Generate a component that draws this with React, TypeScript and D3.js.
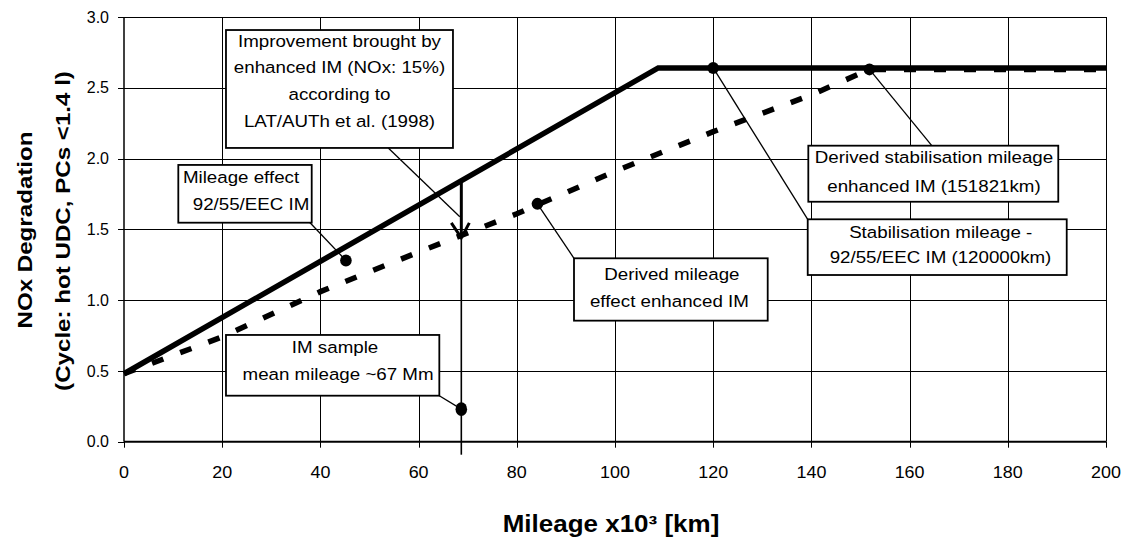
import React from 'react';
import * as d3 from 'd3';

// Chart size
const W = 1126;
const H = 541;

// Axis ticks
const xTicks = [0, 20, 40, 60, 80, 100, 120, 140, 160, 180, 200];
const yTicks = [0, 0.5, 1.0, 1.5, 2.0, 2.5, 3.0];
const yTickLabels = ['0.0', '0.5', '1.0', '1.5', '2.0', '2.5', '3.0'];

// Mileage effect under 92/55/EEC IM (mileage x10^3 km, degradation factor)
const baseMileage = [0, 108.8, 200];
const baseDegradation = [0.48, 2.64, 2.64];

// Derived mileage effect under enhanced IM
const enhancedMileage = [0, 20, 40, 60, 80, 100, 120, 140, 151.821, 200];
const enhancedDegradation = [0.48, 0.74, 1.06, 1.34, 1.61, 1.91, 2.19, 2.45, 2.63, 2.63];

// Callout points
const markerMileage = [45.2, 84.2, 120, 151.821, 68.7];
const markerDegradation = [1.28, 1.68, 2.64, 2.63, 0.23];

// IM sample mean mileage and the 15% improvement arrow end
const sampleMileage = 68.7;
const improvedLevel = 1.44;

// Text boxes (box extents in data units)
const boxLines = [
  ['Improvement brought by', 'enhanced IM (NOx: 15%)', 'according to', 'LAT/AUTh et al. (1998)'],
  ['Mileage effect', '92/55/EEC IM'],
  ['IM sample', 'mean mileage ~67 Mm'],
  ['Derived mileage', 'effect enhanced IM'],
  ['Stabilisation mileage -', '92/55/EEC IM (120000km)'],
  ['Derived stabilisation mileage', 'enhanced IM (151821km)'],
];
const boxX0 = [20.77, 11.06, 20.77, 91.65, 139.25, 139.37];
const boxX1 = [67.0, 38.23, 64.22, 131.1, 192.0, 190.28];
const boxYTop = [2.908, 1.955, 0.754, 1.2955, 1.571, 2.091];
const boxYBottom = [2.075, 1.547, 0.325, 0.855, 1.1775, 1.695];
const boxFirstBase = [16.7, 18.3, 18.3, 21.7, 19, 17.6];
const boxLineStep = [26.7, 26.7, 26.7, 27, 25, 29];
const boxLineDx = [[0, 0, 0, 0], [-4, 6], [2.4, 5.4], [1, -1.5], [3.5, 3.3], [0.7, 0.7]];

// Leaders: box anchor (fraction of box) -> callout marker index
const leaderBox = [1, 2, 3, 4, 5];
const leaderAnchorFx = [0.975, 1, 0, 0, 0.494];
const leaderAnchorFy = [0.97, 1, 0, 0, 0];
const leaderMarker = [0, 4, 1, 2, 3];

const FONT = '"Liberation Sans", Arial, Helvetica, sans-serif';
const STRETCH = 1.15;

export default function App() {
  const x = d3.scaleLinear().domain([0, 200]).range([124, 1106]);
  const y = d3.scaleLinear().domain([0, 3]).range([441.7, 17]);

  const line = d3
    .line<[number, number]>()
    .x((d) => x(d[0]))
    .y((d) => y(d[1]));

  const basePts = baseMileage.map((m, i) => [m, baseDegradation[i]] as [number, number]);
  const enhPts = enhancedMileage.map((m, i) => [m, enhancedDegradation[i]] as [number, number]);
  const baseAt = d3.scaleLinear().domain(baseMileage).range(baseDegradation);

  const sx = x(sampleMileage);
  const arrowTop = y(baseAt(sampleMileage));
  const arrowTip = y(improvedLevel);
  const axisY = y(0);

  const box = (i: number) => ({
    l: x(boxX0[i]),
    r: x(boxX1[i]),
    t: y(boxYTop[i]),
    b: y(boxYBottom[i]),
  });

  return (
    <svg
      width={W}
      height={H}
      style={{ position: 'absolute', left: 0, top: 0, display: 'block', background: '#fff' }}
      fontFamily={FONT}
    >
      <rect x={0} y={0} width={W} height={H} fill="#fff" />

      {/* grid */}
      <g stroke="#000" strokeWidth={1}>
        {yTicks.slice(1).map((t) => (
          <line key={'gy' + t} x1={x(0)} x2={x(200)} y1={Math.round(y(t)) + 0.5} y2={Math.round(y(t)) + 0.5} />
        ))}
        {xTicks.slice(1).map((t) => (
          <line key={'gx' + t} x1={Math.round(x(t)) + 0.5} x2={Math.round(x(t)) + 0.5} y1={y(3)} y2={axisY} />
        ))}
      </g>

      {/* axes */}
      <line x1={x(0)} x2={x(0)} y1={y(3)} y2={axisY} stroke="#000" strokeWidth={1.5} />
      <line x1={x(0)} x2={x(200)} y1={axisY} y2={axisY} stroke="#000" strokeWidth={2} />
      {yTicks.map((t) => (
        <line key={'ty' + t} x1={x(0) - 6} x2={x(0)} y1={Math.round(y(t)) + 0.5} y2={Math.round(y(t)) + 0.5} stroke="#000" strokeWidth={1} />
      ))}
      {xTicks.map((t) => (
        <line key={'tx' + t} x1={Math.round(x(t)) + 0.5} x2={Math.round(x(t)) + 0.5} y1={axisY} y2={axisY + 6} stroke="#000" strokeWidth={1} />
      ))}

      {/* tick labels */}
      <g fontSize={16} fill="#000">
        {yTicks.map((t, i) => (
          <text key={'ly' + t} x={109} y={y(t) + 5.6} textAnchor="end">
            {yTickLabels[i]}
          </text>
        ))}
        {xTicks.map((t) => (
          <text key={'lx' + t} transform={`translate(${x(t)},${477.5}) scale(1.12,1)`} textAnchor="middle">
            {t}
          </text>
        ))}
      </g>

      {/* axis titles */}
      <text
        transform={`translate(611,532) scale(1.13,1)`}
        textAnchor="middle"
        fontSize={23}
        fontWeight="bold"
      >
        Mileage x10³ [km]
      </text>
      <text
        transform={`translate(32,230) rotate(-90) scale(${STRETCH},1)`}
        textAnchor="middle"
        fontSize={21}
        fontWeight="bold"
      >
        NOx Degradation
      </text>
      <text
        transform={`translate(70,231) rotate(-90) scale(${STRETCH},1)`}
        textAnchor="middle"
        fontSize={21}
        fontWeight="bold"
      >
        (Cycle: hot UDC, PCs &lt;1.4 l)
      </text>

      {/* degradation curves */}
      <path d={line(enhPts) || ''} fill="none" stroke="#000" strokeWidth={5.5} strokeDasharray="12 18" />
      <path d={line(basePts) || ''} fill="none" stroke="#000" strokeWidth={5.5} strokeLinejoin="miter" />

      {/* IM sample mileage marker line and improvement arrow */}
      <line x1={sx} x2={sx} y1={arrowTip} y2={axisY + 13} stroke="#000" strokeWidth={1.6} />
      <line x1={sx} x2={sx} y1={arrowTop} y2={arrowTip} stroke="#000" strokeWidth={3} />
      <polyline
        points={`${sx - 10},${arrowTip - 15} ${sx},${arrowTip} ${sx + 8},${arrowTip - 15}`}
        fill="none"
        stroke="#000"
        strokeWidth={3}
      />

      {/* leader from the improvement box to the arrow */}
      {(() => {
        const b = box(0);
        return (
          <line
            x1={b.l + 0.715 * (b.r - b.l)}
            y1={b.b}
            x2={sx - 1.5}
            y2={y(1.589)}
            stroke="#000"
            strokeWidth={1.3}
          />
        );
      })()}

      {/* leaders from boxes to points */}
      {leaderBox.map((bi, k) => {
        const b = box(bi);
        const mi = leaderMarker[k];
        return (
          <line
            key={'ld' + k}
            x1={b.l + leaderAnchorFx[k] * (b.r - b.l)}
            y1={b.t + leaderAnchorFy[k] * (b.b - b.t)}
            x2={x(markerMileage[mi])}
            y2={y(markerDegradation[mi])}
            stroke="#000"
            strokeWidth={1.3}
          />
        );
      })}

      {/* callout points */}
      {markerMileage.map((m, i) => (
        <ellipse key={'mk' + i} cx={x(m)} cy={y(markerDegradation[i])} rx={5.8} ry={i === 4 ? 6.8 : 6} fill="#000" />
      ))}

      {/* text boxes */}
      {boxLines.map((lines, i) => {
        const b = box(i);
        const cx = (b.l + b.r) / 2;
        return (
          <g key={'bx' + i}>
            <rect x={b.l} y={b.t} width={b.r - b.l} height={b.b - b.t} fill="#fff" stroke="#000" strokeWidth={1.8} />
            {lines.map((s, j) => (
              <text
                key={j}
                transform={`translate(${cx + boxLineDx[i][j]},${b.t + boxFirstBase[i] + j * boxLineStep[i]}) scale(${STRETCH},1)`}
                textAnchor="middle"
                fontSize={16.3}
                fill="#000"
              >
                {s}
              </text>
            ))}
          </g>
        );
      })}
    </svg>
  );
}
